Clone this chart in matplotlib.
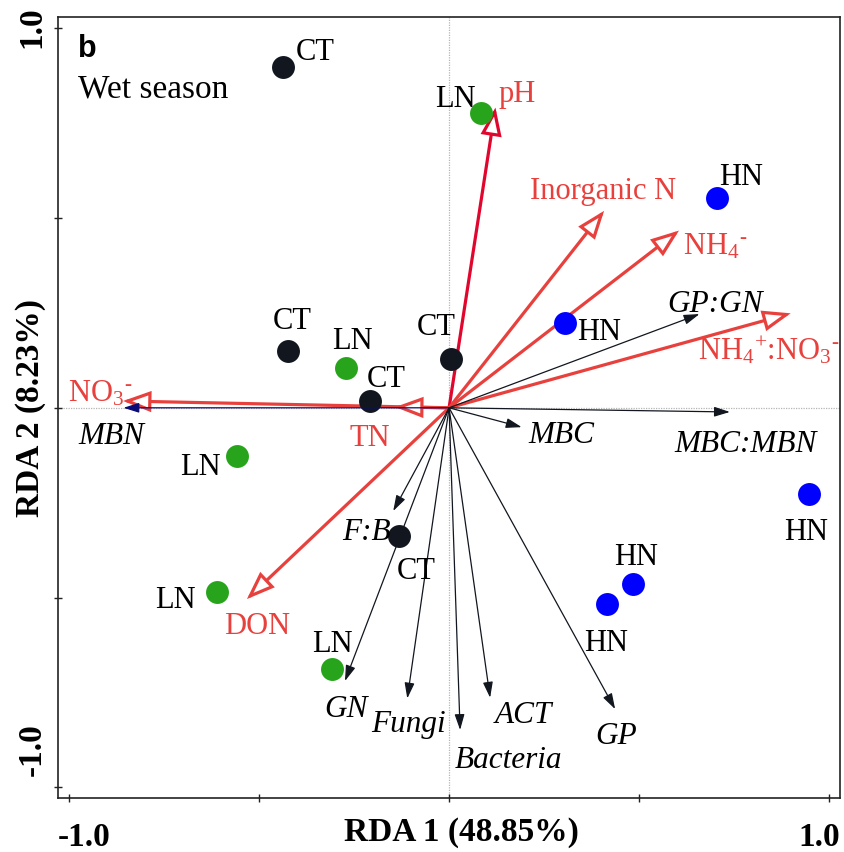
import matplotlib
matplotlib.use('Agg')
import matplotlib.pyplot as plt

plt.rcParams['font.family'] = ['Liberation Serif', 'DejaVu Serif']
plt.rcParams['mathtext.fontset'] = 'custom'
plt.rcParams['mathtext.rm'] = 'Liberation Serif'
plt.rcParams['mathtext.it'] = 'Liberation Serif:italic'
plt.rcParams['mathtext.bf'] = 'Liberation Serif:bold'

# --- sample scores (RDA 1, RDA 2) ---
ct_x = [-0.438, -0.424, 0.004, -0.208, -0.131]
ct_y = [0.897, 0.150, 0.128, 0.018, -0.339]
ln_x = [0.084, -0.271, -0.559, -0.611, -0.307]
ln_y = [0.776, 0.105, -0.127, -0.485, -0.689]
hn_x = [0.704, 0.305, 0.948, 0.485, 0.415]
hn_y = [0.553, 0.223, -0.226, -0.463, -0.518]

# --- environmental variables (red arrows) ---
env_names = ['pH', 'Inorganic N', r'NH$_4$$^{\text{-}}$',
             r'NH$_4$$^{+}$:NO$_3$$^{\text{-}}$', r'NO$_3$$^{\text{-}}$', 'TN', 'DON']
env_x = [0.122, 0.408, 0.605, 0.899, -0.858, -0.142, -0.532]
env_y = [0.791, 0.519, 0.467, 0.249, 0.018, 0.002, -0.504]

# --- microbial variables (black arrows) ---
mic_names = ['MBN', 'MBC:MBN', 'MBC', 'GP:GN', 'F:B', 'GN', 'Fungi',
             'Bacteria', 'ACT', 'GP']
mic_x = [-0.857, 0.739, 0.191, 0.659, -0.147, -0.274, -0.110, 0.029, 0.108, 0.437]
mic_y = [0.000, -0.011, -0.051, 0.247, -0.272, -0.720, -0.766, -0.849, -0.764, -0.794]

# label offsets in pixels (dx, dy) and alignment
ct_off = [(33, 8), (4, 23), (-14, 25), (16, 15), (17, -42)]
ln_off = [(-26, 7), (6, 20), (-36, -18), (-41, -15), (0, 18)]
hn_off = [(25, 14), (34, -16), (-3, -45), (3, 20), (-1, -46)]
env_off = [(22, 7), (-1, 13), (4, -23), (-22, -45), (-55, 0), (-25, -38), (10, -34)]
env_ha = ['center', 'center', 'left', 'center', 'left', 'center', 'center']
mic_off = [(-12, -35), (16, -39), (40, -15), (16, 3), (-27, -28), (1, -35),
           (1, -33), (48, -37), (33, -24), (1, -34)]

red = '#e8413d'
red_ph = '#e0062e'
dark = '#11161f'
fs = 22

W, H = 844, 853
fig = plt.figure(figsize=(W / 100, H / 100), dpi=100)
ax = fig.add_axes([57.7 / W, 1 - 799.3 / H, 782 / W, 781 / H])
ax.set_xlim(-1.03, 1.028)
ax.set_ylim(-1.029, 1.029)

ax.axhline(0, color='#b5b5b5', lw=0.9, ls=(0, (1, 1)), zorder=1)
ax.axvline(0, color='#b5b5b5', lw=0.9, ls=(0, (1, 1)), zorder=1)

# red arrows, open heads
for i, name in enumerate(env_names):
    c = red_ph if name == 'pH' else red
    ax.annotate('', xy=(env_x[i], env_y[i]), xytext=(0, 0),
                arrowprops=dict(arrowstyle='-|>,head_length=1.6,head_width=0.6',
                                mutation_scale=10, fc='white', ec=c, lw=2.3,
                                shrinkA=0, shrinkB=0, joinstyle='miter'),
                zorder=2)
    ax.annotate(name, (env_x[i], env_y[i]), xytext=env_off[i],
                textcoords='offset pixels', ha=env_ha[i], va='baseline',
                color=red, fontsize=fs, zorder=5)

# sample points
ax.plot(ct_x, ct_y, 'o', color=dark, ms=16.5, mew=0, zorder=3)
ax.plot(ln_x, ln_y, 'o', color='#27a41b', ms=16.5, mew=0, zorder=3)
ax.plot(hn_x, hn_y, 'o', color='#0000ff', ms=16.5, mew=0, zorder=3)
for xs, ys, offs, lab in [(ct_x, ct_y, ct_off, 'CT'), (ln_x, ln_y, ln_off, 'LN'),
                          (hn_x, hn_y, hn_off, 'HN')]:
    for x, y, o in zip(xs, ys, offs):
        ax.annotate(lab, (x, y), xytext=o, textcoords='offset pixels',
                    ha='center', va='baseline', color='black', fontsize=fs, zorder=5)

# black arrows, filled heads
for i, name in enumerate(mic_names):
    c = '#0b0b78' if name == 'MBN' else dark
    ax.annotate('', xy=(mic_x[i], mic_y[i]), xytext=(0, 0),
                arrowprops=dict(arrowstyle='-|>,head_length=0.95,head_width=0.3',
                                mutation_scale=10, fc=c, ec=c, lw=0.9,
                                shrinkA=0, shrinkB=0),
                zorder=4)
    ax.annotate(name, (mic_x[i], mic_y[i]), xytext=mic_off[i],
                textcoords='offset pixels', ha='center', va='baseline',
                style='italic', color='black', fontsize=fs + 0.5, zorder=5)

ax.set_xticks([-1, -0.5, 0, 0.5, 1])
ax.set_yticks([-1, -0.5, 0, 0.5, 1])
ax.set_xticklabels([])
ax.set_yticklabels([])
ax.tick_params(direction='inout', length=6, width=1, color='#222222')
for s in ax.spines.values():
    s.set_linewidth(1.2)
    s.set_color('#222222')

# axis texts
fig.text(58 / W, 1 - 846 / H, '-1.0', ha='left', va='baseline', fontsize=24, weight='bold')
fig.text(840 / W, 1 - 846 / H, '1.0', ha='right', va='baseline', fontsize=24, weight='bold')
fig.text(32 / W, 1 - 27 / H, '1.0', ha='center', va='center', rotation=90,
         fontsize=24, weight='bold')
fig.text(32 / W, 1 - 750 / H, '-1.0', ha='center', va='center', rotation=90,
         fontsize=24, weight='bold')
fig.text(461 / W, 1 - 841 / H, 'RDA 1 (48.85%)', ha='center', va='baseline',
         fontsize=24, weight='bold')
fig.text(31 / W, 1 - 408 / H, 'RDA 2 (8.23%)', ha='center', va='center', rotation=90,
         fontsize=24, weight='bold')

fig.text(78 / W, 1 - 57 / H, 'b', ha='left', va='baseline', fontsize=22,
         weight='bold', family=['Liberation Sans', 'DejaVu Sans'])
fig.text(78 / W, 1 - 98 / H, 'Wet season', ha='left', va='baseline', fontsize=24)

fig.savefig('out.png', dpi=100)
